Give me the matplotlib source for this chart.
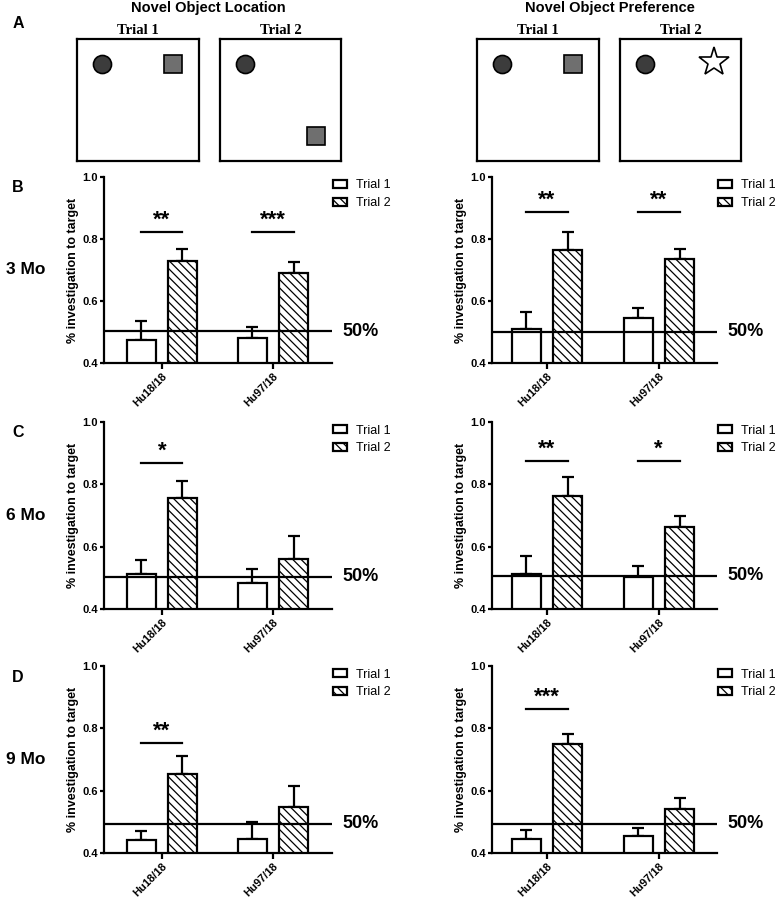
import numpy as np
import matplotlib
matplotlib.use('Agg')
from matplotlib import pyplot as plt

plt.rcParams['font.family'] = ['Liberation Sans', 'DejaVu Sans']
plt.rcParams['hatch.linewidth'] = 0.9

groups = ['Hu18/18', 'Hu97/18']
ages = ['3 Mo', '6 Mo', '9 Mo']
panel_letters = ['B', 'C', 'D']

# novel object location (left column), mean and upper SEM
loc_t1 = [[0.474, 0.480], [0.512, 0.485], [0.443, 0.446]]
loc_t1_err = [[0.061, 0.035], [0.044, 0.043], [0.027, 0.055]]
loc_t2 = [[0.730, 0.691], [0.755, 0.561], [0.655, 0.547]]
loc_t2_err = [[0.037, 0.036], [0.057, 0.074], [0.055, 0.069]]
loc_sig = [['**', '***'], ['*', ''], ['**', '']]
loc_sig_y = [0.822, 0.868, 0.753]
loc_chance = [0.503, 0.503, 0.494]

# novel object preference (right column)
pref_t1 = [[0.509, 0.544], [0.513, 0.503], [0.445, 0.454]]
pref_t1_err = [[0.056, 0.035], [0.056, 0.034], [0.030, 0.025]]
pref_t2 = [[0.765, 0.734], [0.764, 0.662], [0.751, 0.540]]
pref_t2_err = [[0.059, 0.033], [0.060, 0.037], [0.032, 0.035]]
pref_sig = [['**', '**'], ['**', '*'], ['***', '']]
pref_sig_y = [0.886, 0.874, 0.863]
pref_chance = [0.501, 0.507, 0.494]

W, H = 779, 900
fig = plt.figure(figsize=(W / 100, H / 100), dpi=100)


def px(x0, y0, x1, y1):
    # pixel box -> figure fraction rect
    return [x0 / W, 1 - y1 / H, (x1 - x0) / W, (y1 - y0) / H]


def bar_panel(ax, t1, t1e, t2, t2e, sig, sig_y, chance, xlim):
    x = np.arange(len(groups))
    off, bw = 0.185, 0.26
    b1 = ax.bar(x - off, t1, bw, color='white', edgecolor='black', linewidth=1.6, label='Trial 1', zorder=2)
    b2 = ax.bar(x + off, t2, bw, color='white', edgecolor='black', linewidth=1.6, hatch='\\\\\\\\', label='Trial 2', zorder=2)
    ax.errorbar(x - off, t1, yerr=[np.zeros(len(t1)), t1e], fmt='none', ecolor='black', elinewidth=1.6, capsize=4.5, capthick=1.6, zorder=1)
    ax.errorbar(x + off, t2, yerr=[np.zeros(len(t2)), t2e], fmt='none', ecolor='black', elinewidth=1.6, capsize=4.5, capthick=1.6, zorder=1)
    ax.axhline(chance, color='black', linewidth=1.6, zorder=3)
    for i, s in enumerate(sig):
        if s:
            ax.plot([x[i] - off, x[i] + off], [sig_y, sig_y], color='black', linewidth=1.6)
            ax.text(x[i], sig_y + 0.004, s, ha='center', va='bottom', fontsize=16, fontweight='bold')
    ax.set_ylim(0.4, 1.0)
    ax.set_xlim(*xlim)
    ax.set_yticks([0.4, 0.6, 0.8, 1.0])
    ax.set_yticklabels(['0.4', '0.6', '0.8', '1.0'])
    ax.set_xticks(x)
    ax.set_xticklabels(groups, rotation=45, ha='right', va='top', rotation_mode='anchor')
    for s in ['top', 'right']:
        ax.spines[s].set_visible(False)
    for s in ['left', 'bottom']:
        ax.spines[s].set_linewidth(1.6)
    ax.tick_params(axis='y', length=3, width=1.6, pad=1.5, labelsize=8)
    ax.tick_params(axis='x', length=4, width=1.6, pad=1.5, labelsize=8)
    for lab in ax.get_xticklabels() + ax.get_yticklabels():
        lab.set_fontweight('bold')
    ax.set_ylabel('% investigation to target', fontsize=9, fontweight='bold', labelpad=2)
    ax.legend(handles=[b1, b2], loc='upper left', bbox_to_anchor=(0.995, 1.0), frameon=False, fontsize=9,
              handlelength=1.1, handleheight=0.6, handletextpad=0.7, borderpad=0.2, labelspacing=0.45, borderaxespad=0)
    ax.text(1.045, chance, '50%', transform=ax.get_yaxis_transform(), ha='left', va='center', fontsize=13, fontweight='bold')


rows_y = [(177, 363), (422, 609), (666, 853)]
for r in range(3):
    y0, y1 = rows_y[r]
    axl = fig.add_axes(px(104, y0, 332, y1))
    bar_panel(axl, loc_t1[r], loc_t1_err[r], loc_t2[r], loc_t2_err[r], loc_sig[r], loc_sig_y[r], loc_chance[r], (-0.52, 1.53))
    axr = fig.add_axes(px(492, y0, 717, y1))
    bar_panel(axr, pref_t1[r], pref_t1_err[r], pref_t2[r], pref_t2_err[r], pref_sig[r], pref_sig_y[r], pref_chance[r], (-0.49, 1.52))
    fig.text(26 / W, 1 - ((y0 + y1) / 2 + 0) / H, ages[r], ha='center', va='center', fontsize=12.5, fontweight='bold')
    fig.text(18 / W, 1 - (y0 + 11) / H, panel_letters[r], ha='center', va='center', fontsize=11.5, fontweight='bold')

# panel A: arena schematics
fig.text(18 / W, 1 - 23 / H, 'A', ha='center', va='center', fontsize=11.5, fontweight='bold')
fig.text(208 / W, 1 - 8 / H, 'Novel Object Location', ha='center', va='center', fontsize=10.5, fontweight='bold')
fig.text(610 / W, 1 - 8 / H, 'Novel Object Preference', ha='center', va='center', fontsize=10.5, fontweight='bold')

boxes = [(77, 199), (220, 341), (477, 599), (620, 741)]
# objects per box: (marker, x, y, face)
objects = [
    [('o', 0.205, 0.795, '#3c3c3c'), ('s', 0.787, 0.795, '#6f6f6f')],
    [('o', 0.205, 0.795, '#3c3c3c'), ('s', 0.793, 0.205, '#6f6f6f')],
    [('o', 0.205, 0.795, '#3c3c3c'), ('s', 0.787, 0.795, '#6f6f6f')],
    [('o', 0.205, 0.795, '#3c3c3c'), ('*', 0.777, 0.815, 'white')],
]
sizes = {'o': 13, 's': 12.5, '*': 22}
for i, (bx0, bx1) in enumerate(boxes):
    ab = fig.add_axes(px(bx0, 39, bx1, 161))
    ab.set_xlim(0, 1)
    ab.set_ylim(0, 1)
    ab.set_xticks([])
    ab.set_yticks([])
    for s in ab.spines.values():
        s.set_linewidth(1.6)
    for m, ox, oy, fc in objects[i]:
        ab.plot(ox, oy, marker=m, markersize=sizes[m], markerfacecolor=fc, markeredgecolor='black', markeredgewidth=1.2)
    fig.text((bx0 + bx1) / 2 / W, 1 - 31 / H, 'Trial %d' % (i % 2 + 1), ha='center', va='center', fontsize=10.5,
             fontweight='bold', family=['Liberation Serif', 'DejaVu Serif'])

fig.savefig('out.png', dpi=100)
